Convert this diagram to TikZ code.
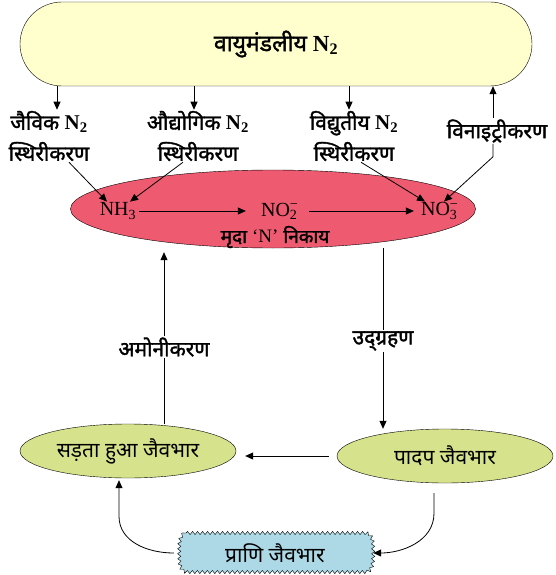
\documentclass[tikz,border=0pt]{standalone}
\usepackage{fontspec}
\setmainfont{Liberation Serif}
\newfontfamily\dev[Script=Devanagari]{Noto Sans}
\newfontfamily\devbold[Script=Devanagari,FakeBold=1.6]{Noto Sans}
\usetikzlibrary{arrows.meta,positioning,shapes.geometric,decorations.pathmorphing,backgrounds}
\definecolor{AirYellow}{RGB}{255,255,206}
\definecolor{SoilRed}{RGB}{238,90,112}
\definecolor{BioGreen}{RGB}{215,227,140}
\definecolor{AnimalBlue}{RGB}{173,216,230}
\newcommand{\Ntwo}{{\rmfamily\bfseries N\textsubscript{2}}}
\newcommand{\ionNO}[1]{NO\makebox[0.45em][l]{\rlap{\textsuperscript{−}}\textsubscript{#1}}}

\begin{document}
\begin{tikzpicture}[x=1pt, y=-1pt,
    arr/.style={-{Triangle[length=8pt,width=7pt]}, line width=0.8pt},
    plain/.style={line width=0.8pt},
    lbl/.style={font=\devbold\fontsize{21}{31}\selectfont, align=center, inner sep=1pt},
    chem/.style={font=\fontsize{20}{22}\selectfont, inner sep=1pt},
    biomass/.style={ellipse, draw, fill=BioGreen, minimum width=216pt, minimum height=54pt,
                    inner sep=0pt, font=\dev\fontsize{21}{22}\selectfont},
    wavy/.style={draw, fill=AnimalBlue, decorate,
                 decoration={snake, segment length=5pt, amplitude=1.6pt}}
]
    \useasboundingbox (0,0) rectangle (555,575);

    % atmosphere
    \node[draw, fill=AirYellow, rounded corners=42pt, minimum width=512pt, minimum height=84pt,
          font=\devbold\fontsize{23}{25}\selectfont] (air) at (276,44) {वायुमंडलीय \Ntwo};

    % fixation labels
    \node[lbl] (biofix) at (49,136) {जैविक \Ntwo\\स्थिरीकरण};
    \node[lbl] (indfix) at (198,136) {औद्योगिक \Ntwo\\स्थिरीकरण};
    \node[lbl] (elefix) at (354,136) {विद्युतीय \Ntwo\\स्थिरीकरण};
    \node[lbl] (denit) at (497,131) {विनाइट्रीकरण};

    % soil pool
    \node[ellipse, draw, fill=SoilRed, minimum width=405pt, minimum height=78pt, inner sep=0pt] (soil) at (273,209) {};
    \node[chem] (nh3) at (118,211) {NH\textsubscript{3}};
    \node[chem] (no2) at (280,211) {\ionNO{2}};
    \node[chem] (no3) at (440,211) {\ionNO{3}};
    \node[font=\devbold\fontsize{19}{20}\selectfont, inner sep=1pt] (pool) at (275,237) {मृदा {\rmfamily ‘N’} निकाय};

    % process labels
    \node[lbl] (amm) at (164,347) {अमोनीकरण};
    \node[lbl] (upt) at (383,341) {उद्ग्रहण};

    % biomass
    \node[biomass] (rot) at (128,451) {सड़ता हुआ जैवभार};
    \node[biomass] (plant) at (445,456) {पादप जैवभार};
    \node[minimum width=194pt, minimum height=39pt, inner sep=0pt,
          font=\dev\fontsize{21}{22}\selectfont] (animal) at (275,553) {प्राणि जैवभार};
    \begin{scope}[on background layer]
        \draw[wavy] (186,533) -- (364,533) to[out=0,in=90] (372,553) to[out=-90,in=0] (364,572)
            -- (186,572) to[out=180,in=-90] (178,553) to[out=90,in=180] cycle;
    \end{scope}

    % fixation arrows
    \draw[arr] ([xshift=8pt]air.south -| biofix.north) -- ([xshift=8pt]biofix.north);
    \draw[arr] ([xshift=-4pt]air.south -| indfix.north) -- ([xshift=-4pt]indfix.north);
    \draw[arr] ([xshift=-5pt]air.south -| elefix.north) -- ([xshift=-5pt]elefix.north);
    \draw[arr] (denit.north -| 493,0) -- (air.south -| 493,0);
    \draw[arr] ([xshift=20pt]biofix.south) -- ([xshift=-11pt]nh3.north);
    \draw[arr] ([xshift=-15pt]indfix.south) -- ([xshift=12pt]nh3.north);
    \draw[arr] ([xshift=7pt]elefix.south) -- ([xshift=-15pt]no3.north);
    \draw[arr] (denit.south -| 493,0) -- ++(0,13) -- ([xshift=4pt]no3.north);

    % soil conversions
    \draw[arr, shorten <=2pt, shorten >=14pt] (nh3) -- (no2);
    \draw[arr, shorten <=9pt, shorten >=6pt] (no2) -- (no3);

    % cycle
    \draw[arr] (amm.north) -- ([yshift=-4pt]amm.north |- soil.south);
    \draw[plain] (rot.north -| amm.south) -- (amm.south);
    \draw[plain] (upt.north |- soil.south) -- (upt.north);
    \draw[arr] (upt.south) -- (plant.north -| upt.south);
    \draw[arr] ([xshift=-8pt]plant.west) -- ([xshift=9pt]plant.west -| rot.east);
    \draw[arr] ([xshift=-11pt,yshift=-10pt]plant.south) -- ++(0,20) to[out=-90,in=0] ([xshift=1pt]animal.east);
    \draw[arr] ([xshift=-4pt]animal.west) to[out=180,in=-90] ([xshift=-9pt,yshift=-38pt]rot.south)
        -- ([xshift=-9pt,yshift=-2pt]rot.south);
\end{tikzpicture}
\end{document}
